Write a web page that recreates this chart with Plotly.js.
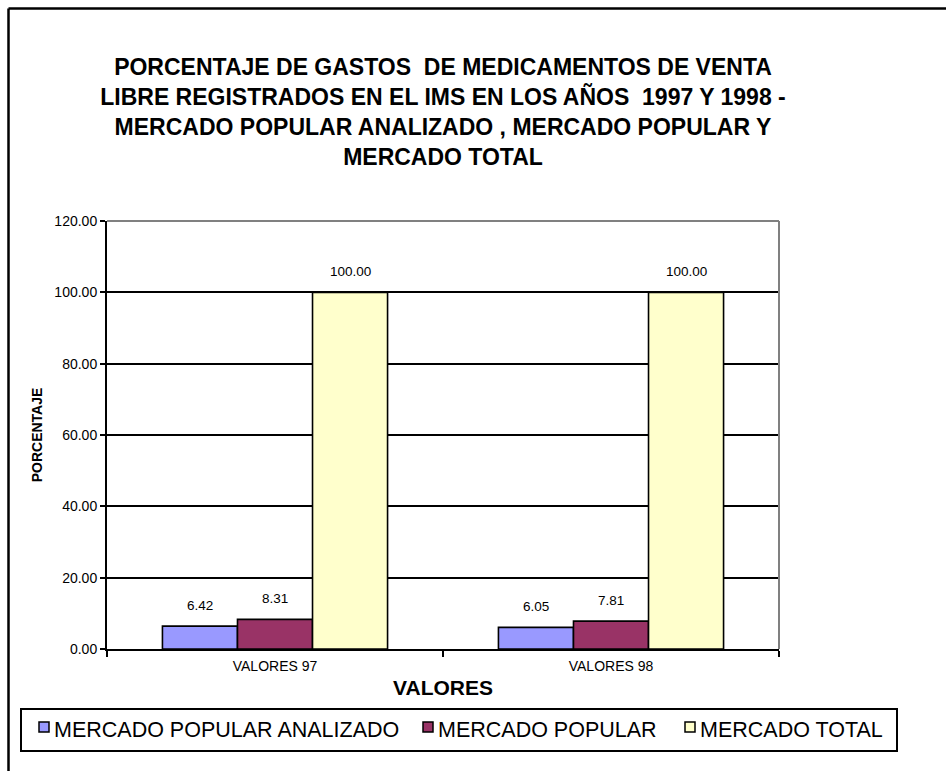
<!DOCTYPE html>
<html>
<head>
<meta charset="utf-8">
<script src="https://cdn.plot.ly/plotly-3.0.1.min.js"></script>
<style>
  html, body { margin: 0; padding: 0; background: #fff; }
  #chart { width: 946px; height: 771px; }
</style>
</head>
<body>
<div id="chart"></div>
<script>
// ---- data ----
const categories = ["VALORES 97", "VALORES 98"];
const seriesNames = ["MERCADO POPULAR ANALIZADO", "MERCADO POPULAR", "MERCADO TOTAL"];
const mercadoPopularAnalizado = [6.42, 6.05];
const mercadoPopular = [8.31, 7.81];
const mercadoTotal = [100.00, 100.00];
const yTickVals = [0, 20, 40, 60, 80, 100, 120];

const seriesValues = [mercadoPopularAnalizado, mercadoPopular, mercadoTotal];
const seriesColors = ["#9999FF", "#993366", "#FFFFCC"];

// ---- layout constants (pixels) ----
const W = 946, H = 771;
const PL = 107, PR = 779, PT = 221, PB = 649;
const PW = PR - PL, PH = PB - PT;
const px2x = px => (px - PL) / PW;
const px2y = py => (PB - py) / PH;

const FONT = "Liberation Sans, Arial, sans-serif";
const BARGAP = 0.33;
const barW = (1 - BARGAP) / seriesNames.length;

const traces = seriesNames.map((name, j) => ({
  type: "bar",
  name: name,
  x: categories,
  y: seriesValues[j],
  marker: { color: seriesColors[j], line: { color: "#000", width: 1.6 } },
  hoverinfo: "x+y+name",
  showlegend: false
}));

// value labels above bars
const annotations = [];
seriesValues.forEach((vals, j) => {
  vals.forEach((v, i) => {
    annotations.push({
      xref: "x", yref: "y",
      x: i + (j - (seriesNames.length - 1) / 2) * barW,
      y: v,
      text: v.toFixed(2),
      showarrow: false,
      yanchor: "bottom",
      yshift: 11,
      font: { family: FONT, size: 13.5, color: "#000" }
    });
  });
});

// legend (boxed, one row, below the chart)
const legendBox = { x0: 21, x1: 897, y0: 709, y1: 751 };
const legendSwatchX = [39, 423, 685];
const SW = 10, swatchY = 722;
const shapes = [
  // gray top and right border of plot area
  { type: "line", xref: "paper", yref: "paper", x0: 0, x1: 1, y0: 1, y1: 1, line: { color: "#808080", width: 2 }, layer: "above" },
  { type: "line", xref: "paper", yref: "paper", x0: 1, x1: 1, y0: 0, y1: 1, line: { color: "#808080", width: 2 }, layer: "above" },
  // outer chart frame (left and top edges)
  { type: "line", xref: "paper", yref: "paper",
    x0: px2x(8.5), x1: px2x(8.5), y0: px2y(8.5), y1: px2y(800),
    line: { color: "#000", width: 2.5 }, layer: "above" },
  { type: "line", xref: "paper", yref: "paper",
    x0: px2x(8.5), x1: px2x(960), y0: px2y(8.5), y1: px2y(8.5),
    line: { color: "#000", width: 2.5 }, layer: "above" },
  // legend box
  { type: "rect", xref: "paper", yref: "paper",
    x0: px2x(legendBox.x0), x1: px2x(legendBox.x1), y0: px2y(legendBox.y0), y1: px2y(legendBox.y1),
    line: { color: "#000", width: 2 }, fillcolor: "#fff", layer: "above" }
];
seriesNames.forEach((name, j) => {
  shapes.push({
    type: "rect", xref: "paper", yref: "paper",
    x0: px2x(legendSwatchX[j]), x1: px2x(legendSwatchX[j] + SW),
    y0: px2y(swatchY), y1: px2y(swatchY + SW),
    line: { color: "#000", width: 1.5 }, fillcolor: seriesColors[j], layer: "above"
  });
  annotations.push({
    xref: "paper", yref: "paper",
    x: px2x(legendSwatchX[j] + SW + 3), y: px2y(730),
    xanchor: "left", yanchor: "middle",
    text: name, showarrow: false,
    font: { family: FONT, size: 21.5, color: "#000" }
  });
});

const layout = {
  width: W,
  height: H,
  paper_bgcolor: "#fff",
  plot_bgcolor: "#fff",
  margin: { l: PL, r: W - PR, t: PT, b: H - PB, autoexpand: false },
  barmode: "group",
  bargap: BARGAP,
  bargroupgap: 0,
  showlegend: false,
  title: {
    text: "PORCENTAJE DE GASTOS  DE MEDICAMENTOS DE VENTA<br>LIBRE REGISTRADOS EN EL IMS EN LOS AÑOS  1997 Y 1998 -<br>MERCADO POPULAR ANALIZADO , MERCADO POPULAR Y<br>MERCADO TOTAL",
    font: { family: FONT, size: 23, color: "#000", weight: "bold" },
    xref: "paper", x: 0.5, xanchor: "center",
    yref: "container", y: 1 - 75 / H, yanchor: "top"
  },
  xaxis: {
    type: "category",
    showline: true, linecolor: "#000", linewidth: 2,
    ticks: "outside", tickson: "boundaries", ticklen: 6, tickwidth: 2, tickcolor: "#000",
    ticklabelstandoff: 3,
    showgrid: false,
    tickfont: { family: FONT, size: 14, color: "#000" },
    title: { text: "VALORES", font: { family: FONT, size: 21, color: "#000", weight: "bold" }, standoff: 8 },
    automargin: false,
    fixedrange: true
  },
  yaxis: {
    range: [0, 120],
    tickvals: yTickVals,
    tickformat: ".2f",
    showline: true, linecolor: "#000", linewidth: 2,
    ticks: "outside", ticklen: 5, tickwidth: 2, tickcolor: "#000",
    showgrid: true, gridcolor: "#000", gridwidth: 2,
    zeroline: false,
    tickfont: { family: FONT, size: 14, color: "#000" },
    title: { text: "PORCENTAJE", font: { family: FONT, size: 14, color: "#000", weight: "bold" }, standoff: 8 },
    automargin: false,
    fixedrange: true
  },
  shapes: shapes,
  annotations: annotations
};

Plotly.newPlot("chart", traces, layout, { displayModeBar: false, staticPlot: true });
</script>
</body>
</html>
